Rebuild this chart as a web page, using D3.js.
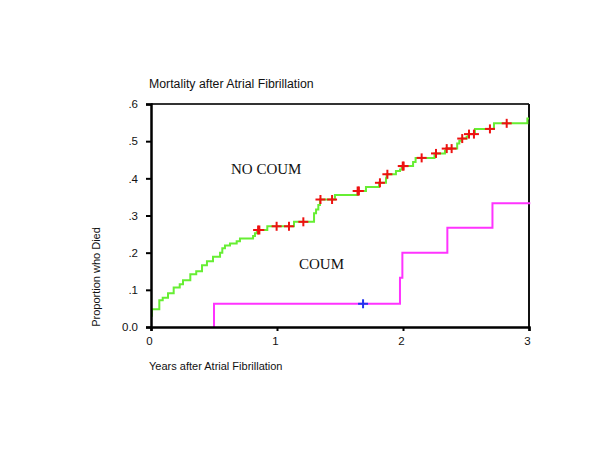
<!DOCTYPE html>
<html><head><meta charset="utf-8">
<script src="https://cdn.jsdelivr.net/npm/d3@7"></script>
<style>
html,body{margin:0;padding:0;background:#fff;}
svg{display:block;}
text{font-family:"Liberation Sans",Arial,sans-serif;fill:#111;}
</style></head>
<body>
<script>
// ---- data ----
const noCoumTimes  = [0,0.008,0.066,0.093,0.135,0.18,0.228,0.254,0.312,0.359,0.405,0.444,0.492,0.548,0.566,0.587,0.627,0.68,0.706,0.81,0.825,0.84,0.923,1.135,1.294,1.31,1.328,1.341,1.46,1.64,1.706,1.81,1.865,1.87,1.944,1.976,1.99,2.08,2.1,2.25,2.333,2.341,2.43,2.447,2.466,2.505,2.518,2.571,2.722,2.987];
const noCoumValues = [0.03,0.048,0.072,0.079,0.091,0.106,0.115,0.126,0.142,0.150,0.166,0.177,0.189,0.200,0.212,0.219,0.225,0.231,0.238,0.245,0.252,0.261,0.271,0.283,0.306,0.316,0.328,0.343,0.355,0.366,0.377,0.388,0.400,0.411,0.420,0.424,0.433,0.444,0.455,0.467,0.474,0.480,0.494,0.501,0.507,0.512,0.519,0.533,0.548,0.561];
const noCoumCensored = [0.85,0.86,0.997,1.095,1.209,1.345,1.437,1.64,1.65,1.817,1.876,1.998,2.005,2.148,2.262,2.347,2.386,2.47,2.524,2.563,2.69,2.823];
const coumTimes  = [0.5,1.976,1.995,2.352,2.71];
const coumValues = [0.0625,0.1325,0.2,0.267,0.333];
const coumCensored = [1.683];
const endTime = 3.0;
const xTicks = [0,1,2,3];
const yTicks = [0,0.1,0.2,0.3,0.4,0.5,0.6];
const yTickLabels = ["0.0",".1",".2",".3",".4",".5",".6"];
const title = "Mortality after Atrial Fibrillation";
const xTitle = "Years after Atrial Fibrillation";
const yTitle = "Proportion who Died";

// ---- layout ----
const W = 600, H = 463;
const L = 151, R = 529, T = 104, B = 327;
const svg = d3.select("body").append("svg").attr("width", W).attr("height", H);
const x = d3.scaleLinear().domain([0,3]).range([L,R]);
const y = d3.scaleLinear().domain([0,0.6]).range([B,T]);

// frame (top/right)
svg.append("line").attr("x1",L).attr("x2",R).attr("y1",T).attr("y2",T).attr("stroke","#333").attr("stroke-width",2);
svg.append("line").attr("x1",R).attr("x2",R).attr("y1",T).attr("y2",B).attr("stroke","#111").attr("stroke-width",2);

// step curves
function stepPts(ts, vs, end, startFromZero){
  const p = ts.map((t,i)=>[t,vs[i]]);
  if (startFromZero) p.unshift([ts[0], 0]);
  p.push([end, vs[vs.length-1]]);
  return p;
}
const line = d3.line().x(d=>x(d[0])).y(d=>y(d[1])).curve(d3.curveStepAfter);
svg.append("path").datum(stepPts(coumTimes,coumValues,endTime+0.01,true))
  .attr("d",line).attr("fill","none").attr("stroke","#ff33ff").attr("stroke-width",2);
svg.append("path").datum(stepPts(noCoumTimes,noCoumValues,endTime,false))
  .attr("d",line).attr("fill","none").attr("stroke","#66ee33").attr("stroke-width",2);

function valAt(ts, vs, t){ const i = d3.bisectRight(ts, t) - 1; return vs[Math.max(0,i)]; }
function marks(list, ts, vs, color){
  const g = svg.append("g").attr("stroke",color).attr("stroke-width",2);
  list.forEach(t=>{
    const cx = x(t), cy = y(valAt(ts,vs,t));
    g.append("line").attr("x1",cx-5).attr("x2",cx+5).attr("y1",cy).attr("y2",cy);
    g.append("line").attr("x1",cx).attr("x2",cx).attr("y1",cy-4.5).attr("y2",cy+4.5);
  });
}
marks(noCoumCensored, noCoumTimes, noCoumValues, "#ee1111");
marks(coumCensored, coumTimes, coumValues, "#2233ee");

// axes
const yAxis = d3.axisLeft(y).tickValues(yTicks).tickFormat((d,i)=>yTickLabels[i]).tickSize(5).tickPadding(8);
const gy = svg.append("g").attr("transform",`translate(${L},0)`).call(yAxis);
const xAxis = d3.axisBottom(x).tickValues(xTicks).tickFormat(d3.format("d")).tickSize(4).tickPadding(6);
const gx = svg.append("g").attr("transform",`translate(0,${B})`).call(xAxis);
[gx,gy].forEach(g=>{
  g.select(".domain").attr("stroke","#000").attr("stroke-width",2.5);
  g.selectAll(".tick line").attr("stroke","#000").attr("stroke-width",2);
  g.selectAll(".tick text").attr("font-family","Liberation Sans, Arial, sans-serif").attr("font-size",11.5).attr("fill","#222");
});
gx.selectAll(".tick text").attr("dx",-2);

// titles
svg.append("text").attr("x",149).attr("y",88).attr("font-size",12.3).text(title);
svg.append("text").attr("x",149).attr("y",370).attr("font-size",11).text(xTitle);
svg.append("text").attr("transform","translate(100,277) rotate(-90)").attr("text-anchor","middle").attr("font-size",11).text(yTitle);

// series labels
svg.append("text").attr("x",231).attr("y",174).attr("font-size",15).style("font-family","Liberation Serif, Times New Roman, serif").text("NO COUM");
svg.append("text").attr("x",299).attr("y",269).attr("font-size",15).style("font-family","Liberation Serif, Times New Roman, serif").text("COUM");
</script>
</body></html>
